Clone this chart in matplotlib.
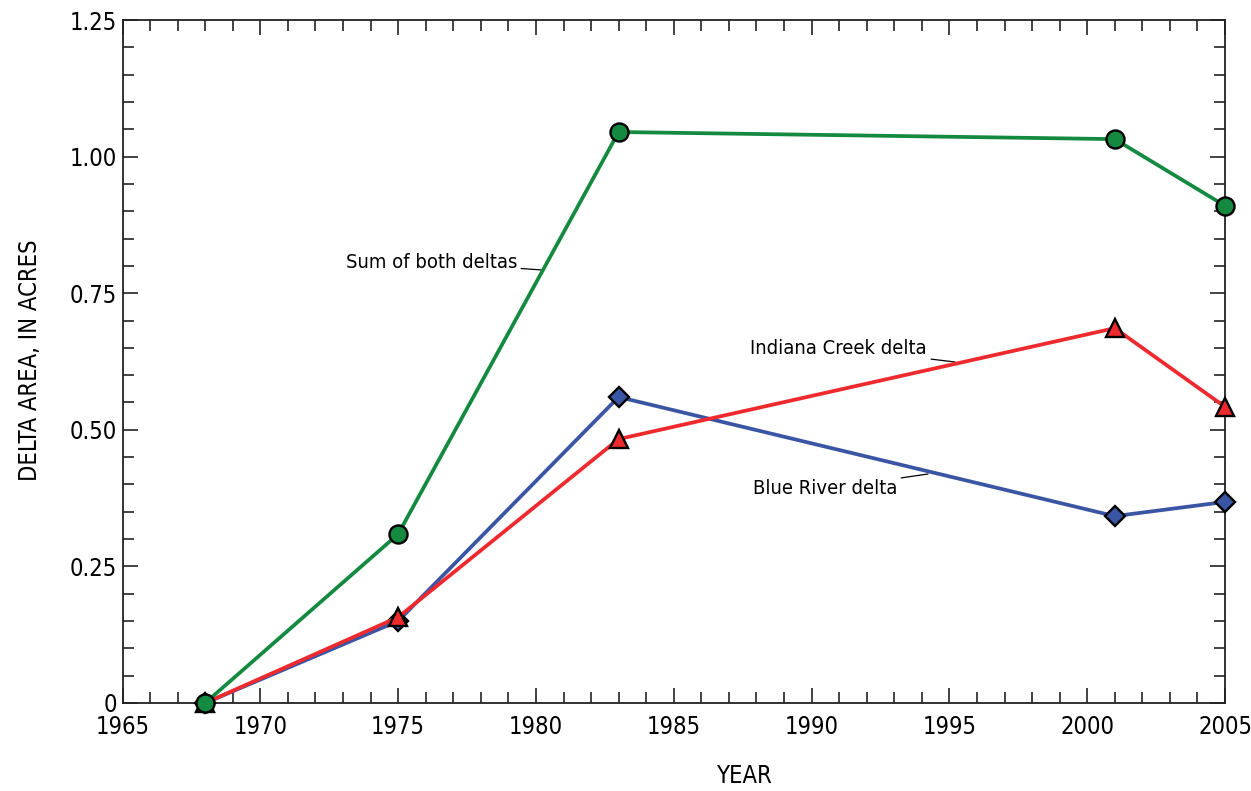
import matplotlib.pyplot as plt
from matplotlib.ticker import MultipleLocator
import matplotlib.font_manager as fm

names = {f.name for f in fm.fontManager.ttflist}
fam = 'Liberation Sans Narrow' if 'Liberation Sans Narrow' in names else 'DejaVu Sans'
plt.rcParams['font.family'] = [fam, 'DejaVu Sans']
plt.rcParams['font.stretch'] = 'condensed'

years = [1968, 1975, 1983, 2001, 2005]
sum_both = [0.0, 0.309, 1.045, 1.032, 0.910]
indiana = [0.0, 0.157, 0.483, 0.686, 0.542]
blue = [0.0, 0.150, 0.560, 0.342, 0.368]

green_c = '#138a3f'
red_c = '#ee2a2e'
blue_c = '#3a55a4'

fig = plt.figure(figsize=(12.51, 7.91), dpi=100)
ax = fig.add_axes([122.5/1251, 1 - 703/791, (1225-122.5)/1251, (703-20)/791])

ax.plot(years, blue, color=blue_c, lw=2.7, marker='D', ms=10.5, mfc=blue_c, mec='black', mew=1.7, zorder=3, clip_on=False)
ax.plot(years, indiana, color=red_c, lw=2.7, marker='^', ms=13, mfc=red_c, mec='black', mew=1.7, zorder=4, clip_on=False)
ax.plot(years, sum_both, color=green_c, lw=2.7, marker='o', ms=13, mfc=green_c, mec='black', mew=1.7, zorder=5, clip_on=False)

ax.set_xlim(1965, 2005)
ax.set_ylim(0, 1.25)
ax.xaxis.set_major_locator(MultipleLocator(5))
ax.xaxis.set_minor_locator(MultipleLocator(1))
ax.yaxis.set_major_locator(MultipleLocator(0.25))
ax.yaxis.set_minor_locator(MultipleLocator(0.05))
ax.set_yticks([0, 0.25, 0.5, 0.75, 1.0, 1.25])
ax.set_yticklabels(['0', '0.25', '0.50', '0.75', '1.00', '1.25'])
ax.tick_params(which='both', direction='in', top=True, right=True, width=1.2, colors='#222222', labelcolor='black', labelsize=17)
ax.tick_params(which='major', length=11)
ax.tick_params(which='minor', length=8)
ax.tick_params(axis='x', pad=9)
ax.tick_params(axis='y', pad=4)
for s in ax.spines.values():
    s.set_linewidth(1.3)
    s.set_color('#222222')

fig.text(30/1251, 1 - 360/791, 'DELTA AREA, IN ACRES', rotation=90, ha='center', va='center', fontsize=17)
fig.text(745/1251, 1 - 776/791, 'YEAR', ha='center', va='center', fontsize=17)

def label(txt, tx, ty, px, py):
    ax.annotate(txt, xy=(px, py), xytext=(tx, ty), textcoords='data', ha='right', va='center', fontsize=14.5,
                arrowprops=dict(arrowstyle='-', color='black', lw=0.9, shrinkA=1, shrinkB=0))

def to_data(x, y):
    return 1965 + (x - 122.5) / (1225 - 122.5) * 40, (703 - y) / (703 - 20) * 1.25

tx, ty = to_data(517, 262); px, py = to_data(542, 270)
label('Sum of both deltas', tx, ty, px, py)
tx, ty = to_data(927, 348); px, py = to_data(955, 362)
label('Indiana Creek delta', tx, ty, px, py)
tx, ty = to_data(897, 489); px, py = to_data(928, 474)
label('Blue River delta', tx, ty, px, py)

fig.savefig('out.png', dpi=100)
